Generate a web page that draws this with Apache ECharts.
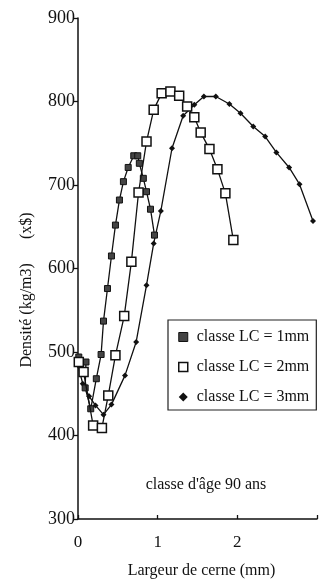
<!DOCTYPE html>
<html>
<head>
<meta charset="utf-8">
<script src="https://cdn.jsdelivr.net/npm/echarts@6/dist/echarts.min.js"></script>
<style>html,body{margin:0;padding:0;background:#fff}#c{width:322px;height:584px}</style>
</head>
<body>
<div id="c"></div>
<script>
// Largeur de cerne (mm) / Densité (kg/m3)
const seriesNames = ['classe LC = 1mm', 'classe LC = 2mm', 'classe LC = 3mm'];
const x1mm = [0.01, 0.10, 0.09, 0.16, 0.23, 0.29, 0.32, 0.37, 0.42, 0.47, 0.52, 0.57, 0.63, 0.70, 0.75, 0.77, 0.82, 0.86, 0.91, 0.96];
const y1mm = [494, 488, 457, 432, 468, 497, 537, 576, 615, 652, 682, 704, 721, 735, 735, 726, 708, 692, 671, 640];
const x2mm = [0.01, 0.07, 0.19, 0.30, 0.38, 0.47, 0.58, 0.67, 0.76, 0.86, 0.95, 1.05, 1.16, 1.27, 1.37, 1.46, 1.54, 1.65, 1.75, 1.85, 1.95];
const y2mm = [488, 476, 412, 409, 448, 496, 543, 608, 691, 752, 790, 810, 812, 807, 794, 781, 763, 743, 719, 690, 634];
const x3mm = [0.00, 0.06, 0.14, 0.22, 0.32, 0.42, 0.59, 0.73, 0.86, 0.95, 1.04, 1.18, 1.32, 1.46, 1.58, 1.73, 1.90, 2.04, 2.20, 2.35, 2.49, 2.65, 2.78, 2.95];
const y3mm = [484, 462, 447, 436, 425, 437, 472, 512, 580, 630, 669, 744, 783, 796, 806, 806, 797, 786, 770, 758, 739, 721, 701, 657];
const xTicks = [0, 1, 2, 3];
const yTicks = [300, 400, 500, 600, 700, 800, 900];
const xTitle = 'Largeur de cerne (mm)';
const yTitle = 'Densité (kg/m3)      (x$)';
const note = 'classe d\'âge 90 ans';

const pairs = (xs, ys) => xs.map((x, i) => [x, ys[i]]);
const serif = '"Liberation Serif", "DejaVu Serif", serif';
const chart = echarts.init(document.getElementById('c'), null, {renderer: 'canvas'});
chart.setOption({
  animation: false,
  backgroundColor: '#fff',
  grid: {left: 78, top: 18, width: 239, height: 504, containLabel: false},
  xAxis: {
    type: 'value', min: xTicks[0], max: xTicks[xTicks.length - 1], interval: 1,
    axisLine: {lineStyle: {color: '#111', width: 1.5}},
    axisTick: {show: true, inside: true, length: 4, lineStyle: {color: '#111', width: 1.3}},
    axisLabel: {color: '#111', fontFamily: serif, fontSize: 17, margin: 15,
      formatter: v => (v === 3 ? '' : String(v))},
    splitLine: {show: false},
    name: xTitle, nameLocation: 'middle', nameGap: 44,
    nameTextStyle: {color: '#111', fontFamily: serif, fontSize: 16, padding: [0, 0, 0, 8]}
  },
  yAxis: {
    type: 'value', min: yTicks[0], max: yTicks[yTicks.length - 1], interval: 100,
    axisLine: {show: true, lineStyle: {color: '#111', width: 1.5}},
    axisTick: {show: true, length: 4, lineStyle: {color: '#111', width: 1.3}},
    axisLabel: {color: '#111', fontFamily: serif, fontSize: 18, margin: 3},
    splitLine: {show: false}
  },
  legend: {
    orient: 'vertical', left: 168, top: 320,
    padding: [8, 7, 4, 10],
    itemGap: 12, itemWidth: 9, itemHeight: 9,
    borderColor: '#222', borderWidth: 1.2, backgroundColor: '#fff',
    textStyle: {color: '#111', fontFamily: serif, fontSize: 16, lineHeight: 18, padding: [0, 0, 0, 4]},
    data: [
      {name: seriesNames[0], icon: 'rect', itemStyle: {color: '#444', borderColor: '#111', borderWidth: 1}},
      {name: seriesNames[1], icon: 'rect', itemStyle: {color: '#fff', borderColor: '#111', borderWidth: 1.5}},
      {name: seriesNames[2], icon: 'diamond', itemStyle: {color: '#111', borderWidth: 0}}
    ]
  },
  graphic: [
    {type: 'text', x: 27, y: 290, rotation: Math.PI / 2,
      style: {text: yTitle, fill: '#111', font: '16px ' + serif, textAlign: 'center', textVerticalAlign: 'middle'}},
    {type: 'text', x: 206, y: 485,
      style: {text: note, fill: '#111', font: '16px ' + serif, textAlign: 'center', textVerticalAlign: 'middle'}}
  ],
  series: [
    {name: seriesNames[0], type: 'line', data: pairs(x1mm, y1mm), symbol: 'rect', symbolSize: 6,
      lineStyle: {color: '#111', width: 1.3}, itemStyle: {color: '#444', borderColor: '#111', borderWidth: 1}, z: 3},
    {name: seriesNames[2], type: 'line', data: pairs(x3mm, y3mm), symbol: 'diamond', symbolSize: 6,
      lineStyle: {color: '#111', width: 1.3}, itemStyle: {color: '#111', borderWidth: 0}, z: 2},
    {name: seriesNames[1], type: 'line', data: pairs(x2mm, y2mm), symbol: 'rect', symbolSize: 9,
      lineStyle: {color: '#111', width: 1.3}, itemStyle: {color: '#fff', borderColor: '#111', borderWidth: 1.5}, z: 4}
  ]
});
</script>
</body>
</html>
